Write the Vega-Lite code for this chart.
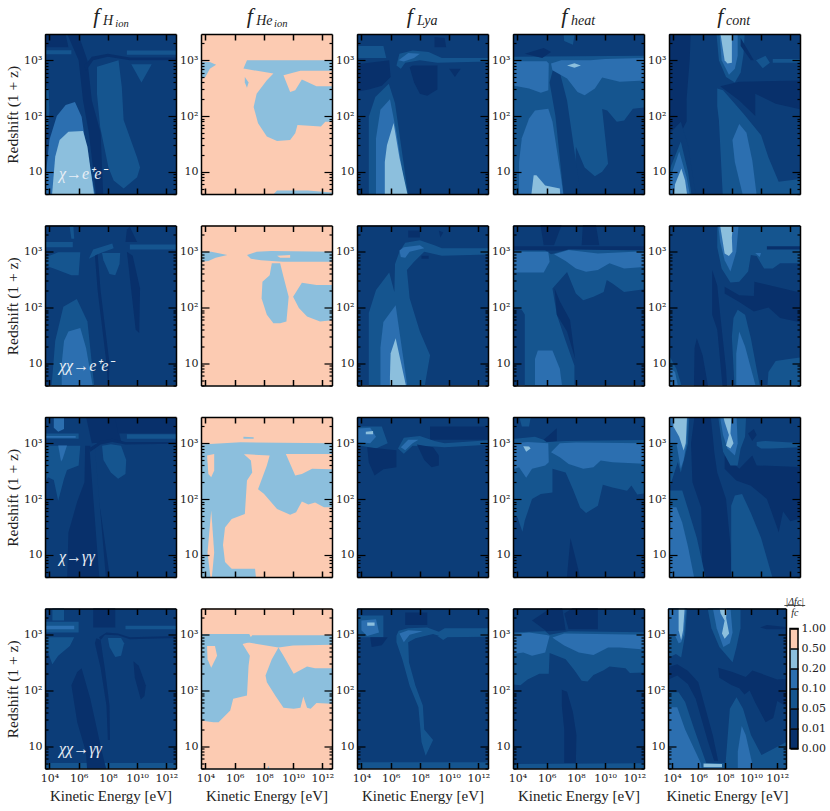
{"$schema":"https://vega.github.io/schema/vega-lite/v6.json","background":"white","padding":{"left":5,"top":4,"right":2,"bottom":2},"spacing":14.5,
"config":{"view":{"stroke":null},"text":{"font":"Liberation Serif"},"axis":{"labelFont":"DejaVu Serif","titleFont":"Liberation Serif","labelColor":"#222","titleColor":"#222"}},
"datasets":{"bar":[{"lo":0,"hi":1,"l":0},{"lo":1,"hi":2,"l":1},{"lo":2,"hi":3,"l":2},{"lo":3,"hi":4,"l":3},{"lo":4,"hi":5,"l":4},{"lo":5,"hi":6,"l":5}],
"cap":[{"x":0.6,"y":7.35,"t":"|Δfc|"},{"x":0.6,"y":6.8,"t":"fc"}],"capline":[{"x":-0.7,"x2":1.9,"y":7.15}],"frame":[{"lo":0,"hi":6}],
"polys":[
{"g":101,"p":1,"l":1},{"g":102,"p":1,"l":0},{"g":103,"p":1,"l":0},{"g":104,"p":1,"l":2},{"g":105,"p":1,"l":2},{"g":106,"p":1,"l":2},{"g":107,"p":1,"l":2},{"g":108,"p":1,"l":0},{"g":109,"p":1,"l":2},{"g":110,"p":1,"l":3},{"g":111,"p":1,"l":4},{"g":199,"p":1,"l":0},
{"g":201,"p":2,"l":5},{"g":202,"p":2,"l":4},{"g":203,"p":2,"l":4},{"g":204,"p":2,"l":4},{"g":205,"p":2,"l":4},{"g":299,"p":2,"l":0},
{"g":301,"p":3,"l":1},{"g":302,"p":3,"l":2},{"g":303,"p":3,"l":0},{"g":304,"p":3,"l":2},{"g":305,"p":3,"l":3},{"g":306,"p":3,"l":4},{"g":307,"p":3,"l":2},{"g":308,"p":3,"l":3},{"g":309,"p":3,"l":0},{"g":310,"p":3,"l":0},{"g":311,"p":3,"l":0},{"g":399,"p":3,"l":0},
{"g":401,"p":4,"l":1},{"g":402,"p":4,"l":2},{"g":403,"p":4,"l":1},{"g":404,"p":4,"l":3},{"g":405,"p":4,"l":3},{"g":406,"p":4,"l":4},{"g":407,"p":4,"l":3},{"g":408,"p":4,"l":4},{"g":409,"p":4,"l":0},{"g":410,"p":4,"l":2},{"g":499,"p":4,"l":0},
{"g":501,"p":5,"l":1},{"g":502,"p":5,"l":0},{"g":503,"p":5,"l":1},{"g":504,"p":5,"l":2},{"g":505,"p":5,"l":3},{"g":506,"p":5,"l":4},{"g":507,"p":5,"l":0},{"g":508,"p":5,"l":2},{"g":509,"p":5,"l":3},{"g":510,"p":5,"l":2},{"g":511,"p":5,"l":3},{"g":512,"p":5,"l":4},{"g":513,"p":5,"l":2},{"g":514,"p":5,"l":0},{"g":515,"p":5,"l":2},{"g":599,"p":5,"l":0},
{"g":601,"p":6,"l":1},{"g":602,"p":6,"l":2},{"g":603,"p":6,"l":2},{"g":604,"p":6,"l":2},{"g":605,"p":6,"l":2},{"g":606,"p":6,"l":2},{"g":607,"p":6,"l":2},{"g":608,"p":6,"l":0},{"g":609,"p":6,"l":0},{"g":610,"p":6,"l":0},{"g":611,"p":6,"l":2},{"g":612,"p":6,"l":3},{"g":699,"p":6,"l":0},
{"g":701,"p":7,"l":5},{"g":702,"p":7,"l":4},{"g":703,"p":7,"l":4},{"g":704,"p":7,"l":5},{"g":705,"p":7,"l":4},{"g":706,"p":7,"l":4},
{"g":801,"p":8,"l":1},{"g":802,"p":8,"l":2},{"g":803,"p":8,"l":3},{"g":804,"p":8,"l":4},{"g":805,"p":8,"l":3},{"g":806,"p":8,"l":0},{"g":807,"p":8,"l":0},{"g":808,"p":8,"l":0},
{"g":901,"p":9,"l":1},{"g":902,"p":9,"l":0},{"g":903,"p":9,"l":0},{"g":904,"p":9,"l":0},{"g":905,"p":9,"l":2},{"g":906,"p":9,"l":0},{"g":907,"p":9,"l":3},{"g":908,"p":9,"l":3},{"g":909,"p":9,"l":3},
{"g":1001,"p":10,"l":1},{"g":1002,"p":10,"l":2},{"g":1003,"p":10,"l":3},{"g":1004,"p":10,"l":4},{"g":1005,"p":10,"l":0},{"g":1006,"p":10,"l":0},{"g":1007,"p":10,"l":0},{"g":1008,"p":10,"l":2},{"g":1009,"p":10,"l":3},{"g":1010,"p":10,"l":2},{"g":1011,"p":10,"l":2},{"g":1012,"p":10,"l":3},{"g":1013,"p":10,"l":3},{"g":1014,"p":10,"l":0},
{"g":1101,"p":11,"l":1},{"g":1102,"p":11,"l":0},{"g":1103,"p":11,"l":1},{"g":1104,"p":11,"l":0},{"g":1105,"p":11,"l":0},{"g":1106,"p":11,"l":2},{"g":1107,"p":11,"l":2},{"g":1108,"p":11,"l":3},{"g":1109,"p":11,"l":3},{"g":1110,"p":11,"l":2},{"g":1111,"p":11,"l":3},{"g":1112,"p":11,"l":2},{"g":1113,"p":11,"l":0},{"g":1199,"p":11,"l":0},
{"g":1201,"p":12,"l":5},{"g":1202,"p":12,"l":4},{"g":1203,"p":12,"l":5},{"g":1204,"p":12,"l":5},{"g":1205,"p":12,"l":4},
{"g":1301,"p":13,"l":1},{"g":1302,"p":13,"l":0},{"g":1303,"p":13,"l":2},{"g":1304,"p":13,"l":3},{"g":1305,"p":13,"l":4},{"g":1306,"p":13,"l":0},{"g":1307,"p":13,"l":2},{"g":1308,"p":13,"l":3},{"g":1309,"p":13,"l":0},
{"g":1401,"p":14,"l":1},{"g":1402,"p":14,"l":2},{"g":1403,"p":14,"l":3},{"g":1404,"p":14,"l":3},{"g":1405,"p":14,"l":4},{"g":1406,"p":14,"l":0},{"g":1407,"p":14,"l":0},{"g":1408,"p":14,"l":2},
{"g":1501,"p":15,"l":1},{"g":1502,"p":15,"l":0},{"g":1503,"p":15,"l":0},{"g":1504,"p":15,"l":2},{"g":1505,"p":15,"l":2},{"g":1506,"p":15,"l":3},{"g":1507,"p":15,"l":2},{"g":1508,"p":15,"l":3},{"g":1509,"p":15,"l":4},{"g":1510,"p":15,"l":2},{"g":1511,"p":15,"l":3},{"g":1512,"p":15,"l":4},{"g":1513,"p":15,"l":2},{"g":1514,"p":15,"l":0},
{"g":1601,"p":16,"l":1},{"g":1602,"p":16,"l":2},{"g":1603,"p":16,"l":0},{"g":1604,"p":16,"l":0},{"g":1605,"p":16,"l":0},{"g":1606,"p":16,"l":2},{"g":1607,"p":16,"l":2},{"g":1608,"p":16,"l":2},{"g":1609,"p":16,"l":3},{"g":1610,"p":16,"l":2},{"g":1611,"p":16,"l":2},{"g":1612,"p":16,"l":0},{"g":1613,"p":16,"l":0},{"g":1699,"p":16,"l":0},
{"g":1701,"p":17,"l":5},{"g":1702,"p":17,"l":4},{"g":1703,"p":17,"l":5},{"g":1704,"p":17,"l":4},{"g":1705,"p":17,"l":4},{"g":1706,"p":17,"l":4},
{"g":1801,"p":18,"l":1},{"g":1802,"p":18,"l":2},{"g":1803,"p":18,"l":2},{"g":1804,"p":18,"l":3},{"g":1805,"p":18,"l":2},{"g":1806,"p":18,"l":3},{"g":1807,"p":18,"l":4},{"g":1808,"p":18,"l":0},{"g":1809,"p":18,"l":2},{"g":1810,"p":18,"l":0},
{"g":1901,"p":19,"l":1},{"g":1902,"p":19,"l":2},{"g":1903,"p":19,"l":2},{"g":1904,"p":19,"l":3},{"g":1905,"p":19,"l":3},{"g":1906,"p":19,"l":0},{"g":1907,"p":19,"l":0},{"g":1908,"p":19,"l":0},
{"g":2001,"p":20,"l":1},{"g":2002,"p":20,"l":2},{"g":2003,"p":20,"l":0},{"g":2004,"p":20,"l":2},{"g":2005,"p":20,"l":3},{"g":2006,"p":20,"l":0},{"g":2007,"p":20,"l":2},{"g":2008,"p":20,"l":3},{"g":2009,"p":20,"l":2},{"g":2010,"p":20,"l":3},{"g":2011,"p":20,"l":4},{"g":2012,"p":20,"l":2},{"g":2013,"p":20,"l":3},{"g":2014,"p":20,"l":4},{"g":2015,"p":20,"l":0},{"g":2016,"p":20,"l":4}
],
"pts":[
{"g":101,"x":1e3,"y":1},{"g":101,"x":1e13,"y":1},{"g":101,"x":1e13,"y":1e4},{"g":101,"x":1e3,"y":1e4},
{"g":102,"x":1e3,"y":4e3},{"g":102,"x":1e5,"y":4e3},{"g":102,"x":2e5,"y":1700},{"g":102,"x":1e3,"y":1700},
{"g":103,"x":1e5,"y":4e3},{"g":103,"x":6.3e5,"y":4e3},{"g":103,"x":4e6,"y":1000},{"g":103,"x":8e6,"y":190},{"g":103,"x":3.2e7,"y":50},{"g":103,"x":5e7,"y":3},{"g":103,"x":1.8e7,"y":3},{"g":103,"x":5e6,"y":50},{"g":103,"x":2e6,"y":190},{"g":103,"x":1e6,"y":1000},
{"g":104,"x":1e3,"y":500},{"g":104,"x":9e3,"y":300},{"g":104,"x":1e4,"y":120},{"g":104,"x":8e3,"y":60},{"g":104,"x":1e3,"y":40},
{"g":105,"x":1.8e7,"y":760},{"g":105,"x":5.4e8,"y":1000},{"g":105,"x":9e8,"y":330},{"g":105,"x":1.2e9,"y":85},{"g":105,"x":1e10,"y":18},{"g":105,"x":1.6e10,"y":12},{"g":105,"x":1e10,"y":8},{"g":105,"x":1.2e9,"y":5},{"g":105,"x":2.5e8,"y":7},{"g":105,"x":1.1e8,"y":12},{"g":105,"x":3e7,"y":63},{"g":105,"x":1.8e7,"y":250},
{"g":106,"x":1e3,"y":1510},{"g":106,"x":3.2e5,"y":1510},{"g":106,"x":3.2e5,"y":1280},{"g":106,"x":1e3,"y":1280},
{"g":107,"x":2e9,"y":1500},{"g":107,"x":1e13,"y":1500},{"g":107,"x":1e13,"y":1250},{"g":107,"x":2e9,"y":1250},
{"g":108,"x":2.5e6,"y":800},{"g":108,"x":8e6,"y":1150},{"g":108,"x":1e8,"y":1300},{"g":108,"x":3.2e9,"y":1120},{"g":108,"x":1e13,"y":1120},{"g":108,"x":1e13,"y":1000},{"g":108,"x":3.2e9,"y":1000},{"g":108,"x":1e8,"y":1150},{"g":108,"x":1e7,"y":1000},{"g":108,"x":3.2e6,"y":650},
{"g":109,"x":4e9,"y":850},{"g":109,"x":1e11,"y":850},{"g":109,"x":2e10,"y":400},
{"g":110,"x":1e3,"y":3},{"g":110,"x":1e3,"y":8},{"g":110,"x":6e3,"y":10},{"g":110,"x":1e4,"y":37},{"g":110,"x":3.2e4,"y":100},{"g":110,"x":1.3e5,"y":158},{"g":110,"x":5.6e5,"y":178},{"g":110,"x":1.6e6,"y":97},{"g":110,"x":3.2e6,"y":28},{"g":110,"x":1.6e7,"y":3},
{"g":111,"x":1.4e4,"y":3},{"g":111,"x":2.5e4,"y":18.6},{"g":111,"x":5e4,"y":37},{"g":111,"x":2e5,"y":52},{"g":111,"x":2e6,"y":54},{"g":111,"x":4e6,"y":28},{"g":111,"x":1.3e7,"y":3},
{"g":199,"x":1e7,"y":6300,"t":"f","k":"big"},{"g":199,"x":4.7e7,"y":5000,"t":"H","k":"sub"},{"g":199,"x":3.2e8,"y":4400,"t":"ion","k":"subsub"},{"g":199,"x":4.6e4,"y":9,"t":"χ→e⁺e⁻","k":"lab"},{"g":199,"x":32,"y":105,"t":"Redshift (1 + z)","k":"ylab"},

{"g":201,"x":1e3,"y":1},{"g":201,"x":1e13,"y":1},{"g":201,"x":1e13,"y":1e4},{"g":201,"x":1e3,"y":1e4},
{"g":202,"x":1e3,"y":960},{"g":202,"x":2e4,"y":930},{"g":202,"x":5.4e4,"y":830},{"g":202,"x":2e4,"y":700},{"g":202,"x":1e4,"y":500},{"g":202,"x":1e3,"y":350},
{"g":203,"x":7e6,"y":1000},{"g":203,"x":1e13,"y":1000},{"g":203,"x":1e13,"y":645},{"g":203,"x":3.2e10,"y":645},{"g":203,"x":2.2e9,"y":540},{"g":203,"x":6.3e9,"y":270},{"g":203,"x":1.4e10,"y":290},{"g":203,"x":4e10,"y":450},{"g":203,"x":4e11,"y":340},{"g":203,"x":1e13,"y":340},{"g":203,"x":1e13,"y":79},{"g":203,"x":1.6e12,"y":79},{"g":203,"x":8e11,"y":65},{"g":203,"x":2e10,"y":69},{"g":203,"x":1.4e10,"y":49},{"g":203,"x":6.3e9,"y":37},{"g":203,"x":8e8,"y":35.5},{"g":203,"x":1.6e8,"y":43},{"g":203,"x":4e7,"y":74},{"g":203,"x":2e7,"y":145},{"g":203,"x":3.2e7,"y":250},{"g":203,"x":1.6e8,"y":437},{"g":203,"x":4.5e8,"y":575},{"g":203,"x":4e6,"y":708},
{"g":204,"x":5e6,"y":500},{"g":204,"x":9e6,"y":400},{"g":204,"x":7e6,"y":320},{"g":204,"x":5e6,"y":400},
{"g":205,"x":1.6e8,"y":3},{"g":205,"x":8e8,"y":4.6},{"g":205,"x":1e11,"y":4.6},{"g":205,"x":1e13,"y":4.2},{"g":205,"x":1e13,"y":3},
{"g":299,"x":6.8e6,"y":6300,"t":"f","k":"big"},{"g":299,"x":3e7,"y":5000,"t":"He","k":"sub"},{"g":299,"x":5e8,"y":4400,"t":"ion","k":"subsub"},

{"g":301,"x":1e3,"y":1},{"g":301,"x":1e13,"y":1},{"g":301,"x":1e13,"y":1e4},{"g":301,"x":1e3,"y":1e4},
{"g":302,"x":3.2e4,"y":3},{"g":302,"x":3.2e4,"y":97},{"g":302,"x":9e4,"y":220},{"g":302,"x":7.5e5,"y":380},{"g":302,"x":2e6,"y":170},{"g":302,"x":1.8e7,"y":3},
{"g":303,"x":1e3,"y":800},{"g":303,"x":8e5,"y":1000},{"g":303,"x":1e6,"y":500},{"g":303,"x":2.5e5,"y":350},{"g":303,"x":3.2e4,"y":300},{"g":303,"x":1e3,"y":250},
{"g":304,"x":1e3,"y":1800},{"g":304,"x":3.2e5,"y":1800},{"g":304,"x":5e5,"y":1100},{"g":304,"x":1e3,"y":1100},
{"g":305,"x":1e5,"y":3},{"g":305,"x":1e5,"y":40},{"g":305,"x":2e5,"y":130},{"g":305,"x":9e5,"y":200},{"g":305,"x":2.5e6,"y":50},{"g":305,"x":1.3e7,"y":3},
{"g":306,"x":4e5,"y":3},{"g":306,"x":4e5,"y":15},{"g":306,"x":5.6e5,"y":30},{"g":306,"x":1.6e6,"y":75},{"g":306,"x":4e6,"y":18},{"g":306,"x":1.8e7,"y":3},
{"g":307,"x":2.5e6,"y":800},{"g":307,"x":4e6,"y":1300},{"g":307,"x":3.2e7,"y":1500},{"g":307,"x":4e8,"y":1400},{"g":307,"x":3.2e9,"y":1100},{"g":307,"x":1e13,"y":1100},{"g":307,"x":1e13,"y":950},{"g":307,"x":1.6e9,"y":900},{"g":307,"x":1e8,"y":1000},{"g":307,"x":1e7,"y":900},{"g":307,"x":5e6,"y":700},
{"g":308,"x":3.5e6,"y":1000},{"g":308,"x":1.6e7,"y":1350},{"g":308,"x":1e8,"y":1300},{"g":308,"x":4e7,"y":1100},{"g":308,"x":8e6,"y":950},
{"g":309,"x":3.2e7,"y":800},{"g":309,"x":1.6e9,"y":800},{"g":309,"x":1.6e9,"y":300},{"g":309,"x":3.2e8,"y":230},{"g":309,"x":1e8,"y":250},{"g":309,"x":4e7,"y":400},{"g":309,"x":2e7,"y":750},
{"g":310,"x":1e10,"y":700},{"g":310,"x":6.3e10,"y":700},{"g":310,"x":2.5e10,"y":500},
{"g":311,"x":1e9,"y":2600},{"g":311,"x":5e9,"y":2500},{"g":311,"x":6.3e9,"y":1700},{"g":311,"x":1e9,"y":1700},
{"g":399,"x":1.26e7,"y":6300,"t":"f","k":"big"},{"g":399,"x":6.3e7,"y":5000,"t":"Lya","k":"sub"},

{"g":401,"x":1e3,"y":1},{"g":401,"x":1e13,"y":1},{"g":401,"x":1e13,"y":1e4},{"g":401,"x":1e3,"y":1e4},
{"g":402,"x":1e3,"y":1150},{"g":402,"x":1e13,"y":1200},{"g":402,"x":1e13,"y":146},{"g":402,"x":8e11,"y":135},{"g":402,"x":2e11,"y":83},{"g":402,"x":6.3e10,"y":79},{"g":402,"x":1.4e10,"y":125},{"g":402,"x":6.3e9,"y":134},{"g":402,"x":1.6e10,"y":14},{"g":402,"x":6.3e9,"y":10},{"g":402,"x":2e9,"y":8.3},{"g":402,"x":4e8,"y":12},{"g":402,"x":1e8,"y":28},{"g":402,"x":8.4e7,"y":3},{"g":402,"x":1e3,"y":3},
{"g":403,"x":3.2e6,"y":800},{"g":403,"x":8e6,"y":600},{"g":403,"x":2.5e7,"y":190},{"g":403,"x":2.5e8,"y":3},{"g":403,"x":1.6e7,"y":3},{"g":403,"x":4e6,"y":100},{"g":403,"x":1.6e6,"y":400},
{"g":404,"x":1e3,"y":960},{"g":404,"x":1e6,"y":960},{"g":404,"x":1.4e6,"y":870},{"g":404,"x":1.3e6,"y":290},{"g":404,"x":4e5,"y":260},{"g":404,"x":6.3e4,"y":310},{"g":404,"x":1e3,"y":380},
{"g":405,"x":2e6,"y":870},{"g":405,"x":1e7,"y":1000},{"g":405,"x":1e9,"y":1000},{"g":405,"x":1e10,"y":1050},{"g":405,"x":1e13,"y":1100},{"g":405,"x":1e13,"y":437},{"g":405,"x":1e11,"y":410},{"g":405,"x":6.3e9,"y":490},{"g":405,"x":2e9,"y":310},{"g":405,"x":4e8,"y":236},{"g":405,"x":1.3e8,"y":270},{"g":405,"x":2.5e7,"y":470},{"g":405,"x":2.5e6,"y":660},
{"g":406,"x":2.5e7,"y":800},{"g":406,"x":8e7,"y":880},{"g":406,"x":2.2e8,"y":800},{"g":406,"x":8e7,"y":730},
{"g":407,"x":1.3e4,"y":3},{"g":407,"x":1.3e4,"y":15},{"g":407,"x":2e4,"y":40},{"g":407,"x":6.3e4,"y":90},{"g":407,"x":1.6e5,"y":125},{"g":407,"x":1.3e6,"y":135},{"g":407,"x":2.5e6,"y":80},{"g":407,"x":9e6,"y":9},{"g":407,"x":1.6e7,"y":3},
{"g":408,"x":8e4,"y":3},{"g":408,"x":1.3e5,"y":8.7},{"g":408,"x":2e5,"y":8.7},{"g":408,"x":8e5,"y":5.7},{"g":408,"x":8e6,"y":5},{"g":408,"x":9e6,"y":3},
{"g":409,"x":3.2e4,"y":1300},{"g":409,"x":6.3e5,"y":1650},{"g":409,"x":2e6,"y":1400},{"g":409,"x":5e5,"y":1100},
{"g":410,"x":1.3e7,"y":4e3},{"g":410,"x":1.6e7,"y":2200},{"g":410,"x":6.3e7,"y":1900},{"g":410,"x":1e8,"y":4e3},
{"g":499,"x":1e7,"y":6300,"t":"f","k":"big"},{"g":499,"x":4.7e7,"y":5000,"t":"heat","k":"sub"},

{"g":501,"x":1e3,"y":1},{"g":501,"x":1e13,"y":1},{"g":501,"x":1e13,"y":1e4},{"g":501,"x":1e3,"y":1e4},
{"g":502,"x":1e3,"y":4e3},{"g":502,"x":1.6e5,"y":4e3},{"g":502,"x":1.3e5,"y":1000},{"g":502,"x":8e4,"y":200},{"g":502,"x":8e4,"y":80},{"g":502,"x":3.2e4,"y":50},{"g":502,"x":1e3,"y":30},
{"g":503,"x":1e3,"y":3},{"g":503,"x":1e3,"y":30},{"g":503,"x":3.2e4,"y":79},{"g":503,"x":1e5,"y":30},{"g":503,"x":4e5,"y":3},
{"g":504,"x":1e3,"y":3},{"g":504,"x":6.3e3,"y":12},{"g":504,"x":3.2e4,"y":35},{"g":504,"x":1e5,"y":10},{"g":504,"x":2e5,"y":3},
{"g":505,"x":1e3,"y":3},{"g":505,"x":6.3e3,"y":8},{"g":505,"x":2.5e4,"y":23},{"g":505,"x":8e4,"y":8},{"g":505,"x":1.6e5,"y":3},
{"g":506,"x":1e4,"y":3},{"g":506,"x":1.3e4,"y":6},{"g":506,"x":3.5e4,"y":11.5},{"g":506,"x":6.3e4,"y":7},{"g":506,"x":1e5,"y":3},
{"g":507,"x":1.6e7,"y":340},{"g":507,"x":3.2e8,"y":410},{"g":507,"x":1e13,"y":437},{"g":507,"x":1e13,"y":126},{"g":507,"x":1e11,"y":166},{"g":507,"x":4e9,"y":250},{"g":507,"x":4e9,"y":100},{"g":507,"x":3.2e8,"y":190},
{"g":508,"x":1e7,"y":310},{"g":508,"x":2.5e7,"y":290},{"g":508,"x":6.3e8,"y":110},{"g":508,"x":1e10,"y":45},{"g":508,"x":3.2e10,"y":18},{"g":508,"x":1.6e11,"y":6.6},{"g":508,"x":1e13,"y":7.6},{"g":508,"x":1e13,"y":3},{"g":508,"x":2.5e7,"y":3},{"g":508,"x":1.3e7,"y":85},{"g":508,"x":1e7,"y":150},
{"g":509,"x":1.1e8,"y":37},{"g":509,"x":3.2e8,"y":72},{"g":509,"x":1e9,"y":50},{"g":509,"x":2.5e9,"y":16},{"g":509,"x":5.6e9,"y":3},{"g":509,"x":7e8,"y":3},{"g":509,"x":1.6e8,"y":15},
{"g":510,"x":8e6,"y":4e3},{"g":510,"x":8e8,"y":4e3},{"g":510,"x":6.3e8,"y":1300},{"g":510,"x":4e8,"y":600},{"g":510,"x":1.6e8,"y":400},{"g":510,"x":4e7,"y":500},{"g":510,"x":1.3e7,"y":1000},
{"g":511,"x":1.3e7,"y":4e3},{"g":511,"x":2.5e8,"y":4e3},{"g":511,"x":2.5e8,"y":1200},{"g":511,"x":1.6e8,"y":700},{"g":511,"x":6.3e7,"y":550},{"g":511,"x":2e7,"y":1000},
{"g":512,"x":1.4e7,"y":4e3},{"g":512,"x":1e8,"y":4e3},{"g":512,"x":1e8,"y":1600},{"g":512,"x":1e8,"y":900},{"g":512,"x":5e7,"y":870},{"g":512,"x":3.2e7,"y":1000},{"g":512,"x":2.5e7,"y":1500},
{"g":513,"x":4.5e9,"y":1000},{"g":513,"x":2e10,"y":1200},{"g":513,"x":4e10,"y":900},{"g":513,"x":1.3e10,"y":720},
{"g":514,"x":4e8,"y":2500},{"g":514,"x":3.2e9,"y":1000},{"g":514,"x":2e9,"y":1000},{"g":514,"x":4e8,"y":1800},
{"g":515,"x":6.3e10,"y":1050},{"g":515,"x":1e13,"y":1050},{"g":515,"x":1e13,"y":900},{"g":515,"x":6.3e10,"y":900},
{"g":599,"x":1e7,"y":6300,"t":"f","k":"big"},{"g":599,"x":4e7,"y":5000,"t":"cont","k":"sub"},

{"g":601,"x":1e3,"y":1},{"g":601,"x":1e13,"y":1},{"g":601,"x":1e13,"y":1e4},{"g":601,"x":1e3,"y":1e4},
{"g":602,"x":1e3,"y":660},{"g":602,"x":4e4,"y":980},{"g":602,"x":1.3e6,"y":980},{"g":602,"x":1e6,"y":380},{"g":602,"x":3.2e5,"y":380},{"g":602,"x":2e4,"y":500},
{"g":603,"x":4e7,"y":950},{"g":603,"x":7e8,"y":950},{"g":603,"x":6.3e8,"y":600},{"g":603,"x":3.2e8,"y":380},{"g":603,"x":1.3e8,"y":400},{"g":603,"x":5e7,"y":700},
{"g":604,"x":1e3,"y":1500},{"g":604,"x":4e5,"y":1500},{"g":604,"x":4e5,"y":1200},{"g":604,"x":1e3,"y":1200},
{"g":605,"x":5e6,"y":750},{"g":605,"x":1e7,"y":1100},{"g":605,"x":2e8,"y":1400},{"g":605,"x":2.5e8,"y":1150},{"g":605,"x":3.2e7,"y":950},
{"g":606,"x":3.2e9,"y":1350},{"g":606,"x":1e13,"y":1350},{"g":606,"x":1e13,"y":1100},{"g":606,"x":3.2e9,"y":1100},
{"g":607,"x":2e5,"y":4e3},{"g":607,"x":4e5,"y":4e3},{"g":607,"x":5e5,"y":1700},{"g":607,"x":3.2e5,"y":1700},
{"g":608,"x":2e9,"y":1000},{"g":608,"x":5e9,"y":850},{"g":608,"x":1.6e10,"y":220},{"g":608,"x":1.4e10,"y":35},{"g":608,"x":8e9,"y":40},{"g":608,"x":4e9,"y":200},
{"g":609,"x":1.3e7,"y":850},{"g":609,"x":2e7,"y":900},{"g":609,"x":3.2e7,"y":200},{"g":609,"x":1.3e8,"y":10},{"g":609,"x":1.1e8,"y":3},{"g":609,"x":8e7,"y":10},{"g":609,"x":2e7,"y":200},
{"g":610,"x":2e9,"y":2500},{"g":610,"x":3.2e9,"y":2800},{"g":610,"x":1e10,"y":1500},{"g":610,"x":1.6e9,"y":1500},
{"g":611,"x":1.3e4,"y":3},{"g":611,"x":2.5e4,"y":25},{"g":611,"x":9e4,"y":103},{"g":611,"x":7.5e5,"y":142},{"g":611,"x":4e6,"y":56},{"g":611,"x":1.3e7,"y":3},
{"g":612,"x":7e4,"y":3},{"g":612,"x":7e4,"y":10},{"g":612,"x":1e5,"y":25},{"g":612,"x":2e5,"y":37},{"g":612,"x":1.3e6,"y":43},{"g":612,"x":3.2e6,"y":19},{"g":612,"x":1.1e7,"y":3},
{"g":699,"x":4.6e4,"y":9,"t":"χχ→e⁺e⁻","k":"lab"},{"g":699,"x":32,"y":105,"t":"Redshift (1 + z)","k":"ylab"},

{"g":701,"x":1e3,"y":1},{"g":701,"x":1e13,"y":1},{"g":701,"x":1e13,"y":1e4},{"g":701,"x":1e3,"y":1e4},
{"g":702,"x":1e3,"y":1020},{"g":702,"x":2.5e4,"y":1000},{"g":702,"x":3.2e5,"y":870},{"g":702,"x":5e4,"y":780},{"g":702,"x":1.6e4,"y":680},{"g":702,"x":1e3,"y":640},
{"g":703,"x":7e6,"y":870},{"g":703,"x":3.2e7,"y":1000},{"g":703,"x":3.2e8,"y":1030},{"g":703,"x":1e13,"y":1000},{"g":703,"x":1e13,"y":660},{"g":703,"x":2e9,"y":660},{"g":703,"x":6.3e7,"y":700},{"g":703,"x":1.3e7,"y":750},
{"g":704,"x":8e8,"y":850},{"g":704,"x":6.3e9,"y":870},{"g":704,"x":6.3e9,"y":780},{"g":704,"x":1.3e9,"y":780},
{"g":705,"x":3.5e8,"y":620},{"g":705,"x":1.3e9,"y":620},{"g":705,"x":2.2e9,"y":357},{"g":705,"x":5e9,"y":156},{"g":705,"x":3.5e9,"y":56},{"g":705,"x":1.3e9,"y":52},{"g":705,"x":4.5e8,"y":52},{"g":705,"x":1.6e8,"y":74},{"g":705,"x":7e7,"y":145},{"g":705,"x":8e7,"y":290},{"g":705,"x":2.5e8,"y":380},
{"g":706,"x":1e10,"y":156},{"g":706,"x":4e10,"y":278},{"g":706,"x":4e11,"y":252},{"g":706,"x":1e13,"y":252},{"g":706,"x":1e13,"y":60},{"g":706,"x":7e11,"y":56},{"g":706,"x":9e10,"y":69},{"g":706,"x":2.5e10,"y":98},

{"g":801,"x":1e3,"y":1},{"g":801,"x":1e13,"y":1},{"g":801,"x":1e13,"y":1e4},{"g":801,"x":1e3,"y":1e4},
{"g":802,"x":3.2e4,"y":3},{"g":802,"x":3.2e4,"y":80},{"g":802,"x":1e5,"y":205},{"g":802,"x":8e5,"y":426},{"g":802,"x":1.8e6,"y":190},{"g":802,"x":2e6,"y":600},{"g":802,"x":4e6,"y":1000},{"g":802,"x":1e7,"y":1450},{"g":802,"x":1e8,"y":1600},{"g":802,"x":1e9,"y":1300},{"g":802,"x":3.2e9,"y":1150},{"g":802,"x":1e13,"y":1150},{"g":802,"x":1e13,"y":900},{"g":802,"x":3.2e9,"y":850},{"g":802,"x":2e8,"y":1000},{"g":802,"x":4e7,"y":660},{"g":802,"x":1.3e7,"y":470},{"g":802,"x":2e7,"y":146},{"g":802,"x":1e8,"y":37},{"g":802,"x":5e8,"y":14},{"g":802,"x":1.8e8,"y":3},
{"g":803,"x":2e5,"y":3},{"g":803,"x":2e5,"y":19},{"g":803,"x":3.2e5,"y":55},{"g":803,"x":2.2e6,"y":110},{"g":803,"x":1.6e7,"y":3},
{"g":804,"x":9e5,"y":3},{"g":804,"x":9e5,"y":6},{"g":804,"x":1e6,"y":15},{"g":804,"x":2.2e6,"y":28},{"g":804,"x":8e6,"y":6},{"g":804,"x":1.4e7,"y":3},
{"g":805,"x":4e6,"y":1050},{"g":805,"x":8e6,"y":1200},{"g":805,"x":1e8,"y":1300},{"g":805,"x":2e8,"y":1150},{"g":805,"x":2e7,"y":1000},{"g":805,"x":1e7,"y":780},{"g":805,"x":5e6,"y":800},
{"g":806,"x":1.3e8,"y":850},{"g":806,"x":4e8,"y":850},{"g":806,"x":4e8,"y":750},{"g":806,"x":1.3e8,"y":750},
{"g":807,"x":1.6e7,"y":2400},{"g":807,"x":1e8,"y":2400},{"g":807,"x":1e8,"y":1800},{"g":807,"x":1.6e7,"y":1800},
{"g":808,"x":2e9,"y":2400},{"g":808,"x":4e9,"y":2200},{"g":808,"x":2.5e9,"y":1800},

{"g":901,"x":1e3,"y":1},{"g":901,"x":1e13,"y":1},{"g":901,"x":1e13,"y":1e4},{"g":901,"x":1e3,"y":1e4},
{"g":902,"x":1e3,"y":1250},{"g":902,"x":1e13,"y":1250},{"g":902,"x":1e13,"y":1050},{"g":902,"x":1.6e6,"y":1050},{"g":902,"x":1e3,"y":1080},
{"g":903,"x":3.2e5,"y":4e3},{"g":903,"x":1.6e7,"y":4e3},{"g":903,"x":3.2e6,"y":1300},{"g":903,"x":6.3e5,"y":1300},
{"g":904,"x":3.2e8,"y":4e3},{"g":904,"x":2e9,"y":4e3},{"g":904,"x":4e9,"y":1300},{"g":904,"x":2.5e8,"y":1300},
{"g":905,"x":1e3,"y":1050},{"g":905,"x":8e5,"y":1050},{"g":905,"x":2e6,"y":900},{"g":905,"x":3.2e7,"y":1100},{"g":905,"x":1e13,"y":1050},{"g":905,"x":1e13,"y":218},{"g":905,"x":2e11,"y":190},{"g":905,"x":3.2e10,"y":270},{"g":905,"x":1.3e10,"y":310},{"g":905,"x":8e9,"y":190},{"g":905,"x":1.6e9,"y":156},{"g":905,"x":3.2e8,"y":135},{"g":905,"x":1e8,"y":178},{"g":905,"x":2.5e7,"y":435},{"g":905,"x":2.5e6,"y":218},{"g":905,"x":5e6,"y":74},{"g":905,"x":2e7,"y":25},{"g":905,"x":8e7,"y":9},{"g":905,"x":8e7,"y":3},{"g":905,"x":3.2e4,"y":3},{"g":905,"x":3.2e4,"y":75},{"g":905,"x":2e4,"y":91},{"g":905,"x":1e3,"y":110},
{"g":906,"x":3.5e6,"y":218},{"g":906,"x":8e6,"y":130},{"g":906,"x":4e7,"y":60},{"g":906,"x":9e7,"y":12},{"g":906,"x":2.5e7,"y":37},{"g":906,"x":5e6,"y":74},
{"g":907,"x":1e3,"y":1000},{"g":907,"x":1.3e6,"y":1000},{"g":907,"x":1.6e6,"y":660},{"g":907,"x":6.3e5,"y":426},{"g":907,"x":1e3,"y":426},
{"g":908,"x":3.2e6,"y":900},{"g":908,"x":3.2e7,"y":1070},{"g":908,"x":3.2e9,"y":930},{"g":908,"x":1e13,"y":1030},{"g":908,"x":1e13,"y":540},{"g":908,"x":2e11,"y":500},{"g":908,"x":2e10,"y":620},{"g":908,"x":3.2e9,"y":470},{"g":908,"x":5e8,"y":438},{"g":908,"x":1e8,"y":500},{"g":908,"x":2e7,"y":680},
{"g":909,"x":1.6e5,"y":3},{"g":909,"x":1.6e5,"y":12},{"g":909,"x":2.5e5,"y":17},{"g":909,"x":2.5e6,"y":17},{"g":909,"x":8e6,"y":8},{"g":909,"x":1.3e7,"y":3},

{"g":1001,"x":1e3,"y":1},{"g":1001,"x":1e13,"y":1},{"g":1001,"x":1e13,"y":1e4},{"g":1001,"x":1e3,"y":1e4},
{"g":1002,"x":1e7,"y":4e3},{"g":1002,"x":1e13,"y":4e3},{"g":1002,"x":1e13,"y":620},{"g":1002,"x":2e11,"y":620},{"g":1002,"x":6.3e10,"y":500},{"g":1002,"x":1.6e10,"y":500},{"g":1002,"x":5e9,"y":840},{"g":1002,"x":2e9,"y":870},{"g":1002,"x":1.3e9,"y":440},{"g":1002,"x":3.2e8,"y":290},{"g":1002,"x":8e7,"y":280},{"g":1002,"x":2e7,"y":500},{"g":1002,"x":1e7,"y":1200},
{"g":1003,"x":1e7,"y":4e3},{"g":1003,"x":3.2e8,"y":4e3},{"g":1003,"x":2e8,"y":1000},{"g":1003,"x":8e7,"y":440},{"g":1003,"x":3.2e7,"y":700},{"g":1003,"x":1.6e7,"y":1500},
{"g":1004,"x":1.3e7,"y":4e3},{"g":1004,"x":1.3e8,"y":4e3},{"g":1004,"x":1e8,"y":1800},{"g":1004,"x":1.1e8,"y":1000},{"g":1004,"x":6.3e7,"y":840},{"g":1004,"x":3.2e7,"y":930},{"g":1004,"x":2e7,"y":2000},
{"g":1005,"x":3.2e7,"y":235},{"g":1005,"x":3.2e8,"y":165},{"g":1005,"x":3.2e9,"y":160},{"g":1005,"x":3.5e9,"y":290},{"g":1005,"x":1e13,"y":178},{"g":1005,"x":1e13,"y":52},{"g":1005,"x":2e11,"y":65},{"g":1005,"x":3.2e10,"y":100},{"g":1005,"x":3.2e9,"y":85},{"g":1005,"x":3.2e8,"y":125},{"g":1005,"x":3.2e7,"y":178},
{"g":1006,"x":4.5e6,"y":470},{"g":1006,"x":1e7,"y":250},{"g":1006,"x":1.6e7,"y":74},{"g":1006,"x":4e7,"y":8},{"g":1006,"x":5e7,"y":3},{"g":1006,"x":2.5e7,"y":3},{"g":1006,"x":1e7,"y":40},{"g":1006,"x":4.5e6,"y":74},
{"g":1007,"x":2.5e5,"y":3},{"g":1007,"x":2.8e5,"y":19},{"g":1007,"x":4e5,"y":28},{"g":1007,"x":1e6,"y":14},{"g":1007,"x":2.8e6,"y":3},
{"g":1008,"x":1.6e8,"y":3},{"g":1008,"x":1e8,"y":30},{"g":1008,"x":1.3e8,"y":65},{"g":1008,"x":2.5e8,"y":91},{"g":1008,"x":8e8,"y":74},{"g":1008,"x":2e9,"y":28},{"g":1008,"x":1e10,"y":3},
{"g":1009,"x":2e8,"y":3},{"g":1009,"x":2e8,"y":15},{"g":1009,"x":3.2e8,"y":37},{"g":1009,"x":8e8,"y":20},{"g":1009,"x":5.6e9,"y":3},
{"g":1010,"x":2.5e10,"y":3},{"g":1010,"x":3.2e10,"y":7},{"g":1010,"x":1e11,"y":11},{"g":1010,"x":8e11,"y":12},{"g":1010,"x":1e13,"y":13},{"g":1010,"x":1e13,"y":3},
{"g":1011,"x":1e3,"y":30},{"g":1011,"x":1.6e4,"y":8},{"g":1011,"x":5e4,"y":3},{"g":1011,"x":1e3,"y":3},
{"g":1012,"x":1e3,"y":12},{"g":1012,"x":1.3e4,"y":7},{"g":1012,"x":2.5e4,"y":3},{"g":1012,"x":1e3,"y":3},
{"g":1013,"x":4e9,"y":950},{"g":1013,"x":1e10,"y":950},{"g":1013,"x":8e9,"y":800},
{"g":1014,"x":2.5e10,"y":1250},{"g":1014,"x":1e13,"y":1250},{"g":1014,"x":1e13,"y":1100},{"g":1014,"x":2.5e10,"y":1100},

{"g":1101,"x":1e3,"y":1},{"g":1101,"x":1e13,"y":1},{"g":1101,"x":1e13,"y":1e4},{"g":1101,"x":1e3,"y":1e4},
{"g":1102,"x":1.6e5,"y":3},{"g":1102,"x":2e5,"y":25},{"g":1102,"x":8e5,"y":90},{"g":1102,"x":2.5e6,"y":200},{"g":1102,"x":2.8e6,"y":900},{"g":1102,"x":6.3e6,"y":900},{"g":1102,"x":1e7,"y":300},{"g":1102,"x":3.2e7,"y":60},{"g":1102,"x":1.6e8,"y":3},
{"g":1103,"x":5.6e6,"y":800},{"g":1103,"x":1.3e7,"y":800},{"g":1103,"x":8e7,"y":3},{"g":1103,"x":2.8e7,"y":3},
{"g":1104,"x":2.5e6,"y":4e3},{"g":1104,"x":2.5e8,"y":4e3},{"g":1104,"x":8e8,"y":1100},{"g":1104,"x":8e6,"y":1000},
{"g":1105,"x":2.5e8,"y":4e3},{"g":1105,"x":1e13,"y":4e3},{"g":1105,"x":1e13,"y":1500},{"g":1105,"x":5e8,"y":1500},
{"g":1106,"x":4e7,"y":900},{"g":1106,"x":1.6e8,"y":960},{"g":1106,"x":8e8,"y":900},{"g":1106,"x":1.8e9,"y":500},{"g":1106,"x":1.6e9,"y":280},{"g":1106,"x":5e8,"y":230},{"g":1106,"x":1.6e8,"y":300},{"g":1106,"x":5e7,"y":500},
{"g":1107,"x":1e3,"y":900},{"g":1107,"x":1.3e6,"y":900},{"g":1107,"x":1e6,"y":400},{"g":1107,"x":1.6e5,"y":330},{"g":1107,"x":1e5,"y":230},{"g":1107,"x":4e4,"y":93},{"g":1107,"x":2e4,"y":220},{"g":1107,"x":8e3,"y":245},{"g":1107,"x":1e3,"y":93},
{"g":1108,"x":4e4,"y":910},{"g":1108,"x":1.6e5,"y":910},{"g":1108,"x":8e4,"y":520},{"g":1108,"x":6.3e4,"y":470},
{"g":1109,"x":2e4,"y":4e3},{"g":1109,"x":1e5,"y":4e3},{"g":1109,"x":1e5,"y":1800},{"g":1109,"x":4e4,"y":1600},{"g":1109,"x":2e4,"y":1900},
{"g":1110,"x":1e3,"y":1500},{"g":1110,"x":1e6,"y":1500},{"g":1110,"x":1e6,"y":1200},{"g":1110,"x":1e3,"y":1200},
{"g":1111,"x":1e3,"y":1350},{"g":1111,"x":6.3e5,"y":1350},{"g":1111,"x":6.3e5,"y":1250},{"g":1111,"x":1e3,"y":1250},
{"g":1112,"x":2e9,"y":1450},{"g":1112,"x":1e13,"y":1450},{"g":1112,"x":1e13,"y":1200},{"g":1112,"x":2e9,"y":1200},
{"g":1113,"x":5e6,"y":800},{"g":1113,"x":3.2e7,"y":1100},{"g":1113,"x":2e8,"y":1200},{"g":1113,"x":1.6e9,"y":1050},{"g":1113,"x":1e13,"y":1050},{"g":1113,"x":1e13,"y":980},{"g":1113,"x":1.6e9,"y":950},{"g":1113,"x":2e8,"y":1050},{"g":1113,"x":3.2e7,"y":950},{"g":1113,"x":6.3e6,"y":700},
{"g":1199,"x":4.6e4,"y":9,"t":"χ→γγ","k":"lab"},{"g":1199,"x":32,"y":105,"t":"Redshift (1 + z)","k":"ylab"},

{"g":1201,"x":1e3,"y":1},{"g":1201,"x":1e13,"y":1},{"g":1201,"x":1e13,"y":1e4},{"g":1201,"x":1e3,"y":1e4},
{"g":1202,"x":1e3,"y":930},{"g":1202,"x":1.6e5,"y":1000},{"g":1202,"x":2.5e6,"y":1040},{"g":1202,"x":1e13,"y":1000},{"g":1202,"x":1e13,"y":640},{"g":1202,"x":3.2e9,"y":640},{"g":1202,"x":1.4e10,"y":263},{"g":1202,"x":4e10,"y":280},{"g":1202,"x":2e11,"y":350},{"g":1202,"x":1e13,"y":340},{"g":1202,"x":1e13,"y":71},{"g":1202,"x":1.3e12,"y":71},{"g":1202,"x":3.2e11,"y":87},{"g":1202,"x":1.1e11,"y":80},{"g":1202,"x":4e10,"y":90},{"g":1202,"x":1.6e10,"y":58},{"g":1202,"x":6.3e9,"y":52},{"g":1202,"x":8e8,"y":66},{"g":1202,"x":1e8,"y":124},{"g":1202,"x":4e7,"y":150},{"g":1202,"x":1.6e8,"y":400},{"g":1202,"x":2.5e8,"y":600},{"g":1202,"x":4e6,"y":640},{"g":1202,"x":3.2e6,"y":680},{"g":1202,"x":1.3e7,"y":490},{"g":1202,"x":1.6e7,"y":300},{"g":1202,"x":7e6,"y":215},{"g":1202,"x":5e6,"y":54},{"g":1202,"x":6.3e5,"y":44},{"g":1202,"x":2.2e5,"y":31},{"g":1202,"x":1.6e5,"y":15},{"g":1202,"x":2.2e5,"y":7.4},{"g":1202,"x":6.3e5,"y":5.6},{"g":1202,"x":2.5e7,"y":5.6},{"g":1202,"x":3.2e7,"y":3},{"g":1202,"x":1e3,"y":3},
{"g":1203,"x":2.5e4,"y":62},{"g":1203,"x":4e4,"y":11},{"g":1203,"x":2.5e4,"y":3},{"g":1203,"x":1.4e4,"y":11},
{"g":1204,"x":1.3e4,"y":600},{"g":1204,"x":4e4,"y":640},{"g":1204,"x":4e4,"y":324},{"g":1204,"x":2.5e4,"y":245},{"g":1204,"x":1.6e4,"y":280},
{"g":1205,"x":4e6,"y":1300},{"g":1205,"x":2e7,"y":1280},{"g":1205,"x":2e7,"y":1200},{"g":1205,"x":4e6,"y":1200},

{"g":1301,"x":1e3,"y":1},{"g":1301,"x":1e13,"y":1},{"g":1301,"x":1e13,"y":1e4},{"g":1301,"x":1e3,"y":1e4},
{"g":1302,"x":5e8,"y":2000},{"g":1302,"x":1e13,"y":2000},{"g":1302,"x":1e13,"y":1150},{"g":1302,"x":5e8,"y":1150},
{"g":1303,"x":1e3,"y":2000},{"g":1303,"x":2.5e5,"y":2000},{"g":1303,"x":6.3e5,"y":1000},{"g":1303,"x":1e5,"y":800},{"g":1303,"x":1e3,"y":1000},
{"g":1304,"x":1e3,"y":1800},{"g":1304,"x":4e4,"y":1900},{"g":1304,"x":1e5,"y":1300},{"g":1304,"x":4e4,"y":1000},{"g":1304,"x":1e3,"y":1100},
{"g":1305,"x":2e4,"y":1600},{"g":1305,"x":6.3e4,"y":1650},{"g":1305,"x":6.3e4,"y":1450},{"g":1305,"x":2e4,"y":1450},
{"g":1306,"x":2.5e4,"y":850},{"g":1306,"x":2.5e6,"y":750},{"g":1306,"x":2.5e6,"y":370},{"g":1306,"x":3.2e5,"y":340},{"g":1306,"x":8e4,"y":263},{"g":1306,"x":3.2e4,"y":450},
{"g":1307,"x":3.2e6,"y":800},{"g":1307,"x":8e6,"y":1250},{"g":1307,"x":1e8,"y":1350},{"g":1307,"x":1e9,"y":1100},{"g":1307,"x":5e9,"y":1000},{"g":1307,"x":1e13,"y":1150},{"g":1307,"x":1e13,"y":950},{"g":1307,"x":5e9,"y":850},{"g":1307,"x":1e9,"y":870},{"g":1307,"x":3.2e7,"y":900},{"g":1307,"x":8e6,"y":650},
{"g":1308,"x":5e6,"y":850},{"g":1308,"x":1.6e7,"y":1150},{"g":1308,"x":8e7,"y":1150},{"g":1308,"x":3.2e7,"y":1000},{"g":1308,"x":1e7,"y":750},
{"g":1309,"x":6.3e7,"y":950},{"g":1309,"x":8e8,"y":850},{"g":1309,"x":2e9,"y":600},{"g":1309,"x":2e9,"y":400},{"g":1309,"x":6.3e8,"y":370},{"g":1309,"x":2e8,"y":500},

{"g":1401,"x":1e3,"y":1},{"g":1401,"x":1e13,"y":1},{"g":1401,"x":1e13,"y":1e4},{"g":1401,"x":1e3,"y":1e4},
{"g":1402,"x":1e3,"y":1150},{"g":1402,"x":1.6e5,"y":1300},{"g":1402,"x":1.6e6,"y":1050},{"g":1402,"x":2e7,"y":1100},{"g":1402,"x":1e13,"y":1150},{"g":1402,"x":1e13,"y":129},{"g":1402,"x":1.6e12,"y":120},{"g":1402,"x":6.3e11,"y":174},{"g":1402,"x":3.2e11,"y":140},{"g":1402,"x":3.2e10,"y":160},{"g":1402,"x":7e9,"y":180},{"g":1402,"x":3.2e9,"y":76},{"g":1402,"x":5e8,"y":56},{"g":1402,"x":2e8,"y":70},{"g":1402,"x":6.3e7,"y":150},{"g":1402,"x":2e7,"y":300},{"g":1402,"x":2.5e6,"y":350},{"g":1402,"x":2.5e6,"y":131},{"g":1402,"x":4e5,"y":123},{"g":1402,"x":1e5,"y":100},{"g":1402,"x":3.2e4,"y":41},{"g":1402,"x":2.2e4,"y":26},{"g":1402,"x":1e4,"y":47},{"g":1402,"x":1e3,"y":58},
{"g":1403,"x":1e3,"y":970},{"g":1403,"x":5e4,"y":1050},{"g":1403,"x":1.3e6,"y":1000},{"g":1403,"x":1.4e6,"y":455},{"g":1403,"x":8e5,"y":400},{"g":1403,"x":1e5,"y":350},{"g":1403,"x":4e4,"y":240},{"g":1403,"x":1.3e4,"y":370},{"g":1403,"x":1e3,"y":300},
{"g":1404,"x":2e6,"y":690},{"g":1404,"x":8e6,"y":1000},{"g":1404,"x":1e8,"y":1030},{"g":1404,"x":1e13,"y":1000},{"g":1404,"x":1e13,"y":426},{"g":1404,"x":3.2e10,"y":456},{"g":1404,"x":5e9,"y":490},{"g":1404,"x":1.6e9,"y":370},{"g":1404,"x":3.2e8,"y":350},{"g":1404,"x":3.2e7,"y":426},{"g":1404,"x":8e6,"y":560},
{"g":1405,"x":2.5e4,"y":880},{"g":1405,"x":6.3e4,"y":870},{"g":1405,"x":8e4,"y":800},{"g":1405,"x":4e4,"y":700},
{"g":1406,"x":6.3e5,"y":1150},{"g":1406,"x":5e6,"y":1850},{"g":1406,"x":5e6,"y":1100},{"g":1406,"x":1e6,"y":1050},
{"g":1407,"x":2.2e7,"y":3},{"g":1407,"x":4.3e7,"y":20},{"g":1407,"x":1.6e8,"y":5},{"g":1407,"x":2.2e8,"y":3},
{"g":1408,"x":1e4,"y":4e3},{"g":1408,"x":1e5,"y":4e3},{"g":1408,"x":6.3e4,"y":2000},{"g":1408,"x":2e4,"y":2000},

{"g":1501,"x":1e3,"y":1},{"g":1501,"x":1e13,"y":1},{"g":1501,"x":1e13,"y":1e4},{"g":1501,"x":1e3,"y":1e4},
{"g":1502,"x":3.2e5,"y":4e3},{"g":1502,"x":3.2e6,"y":4e3},{"g":1502,"x":5e6,"y":1300},{"g":1502,"x":6.3e6,"y":690},{"g":1502,"x":1e7,"y":300},{"g":1502,"x":4e7,"y":100},{"g":1502,"x":8e7,"y":15},{"g":1502,"x":1e8,"y":3},{"g":1502,"x":1e6,"y":3},{"g":1502,"x":8e5,"y":70},{"g":1502,"x":2e5,"y":200},{"g":1502,"x":1.6e5,"y":1000},
{"g":1503,"x":3.2e7,"y":600},{"g":1503,"x":3.2e8,"y":350},{"g":1503,"x":2.5e9,"y":600},{"g":1503,"x":5e9,"y":400},{"g":1503,"x":1e13,"y":370},{"g":1503,"x":1e13,"y":47},{"g":1503,"x":1e12,"y":40},{"g":1503,"x":3.2e11,"y":60},{"g":1503,"x":1.6e11,"y":25},{"g":1503,"x":1.3e11,"y":30},{"g":1503,"x":2.5e10,"y":100},{"g":1503,"x":2e9,"y":173},{"g":1503,"x":2e8,"y":215},{"g":1503,"x":3.2e7,"y":350},
{"g":1504,"x":9e7,"y":3},{"g":1504,"x":9e7,"y":76},{"g":1504,"x":1.6e8,"y":115},{"g":1504,"x":5e8,"y":123},{"g":1504,"x":2e9,"y":56},{"g":1504,"x":1e10,"y":20},{"g":1504,"x":8e10,"y":3},
{"g":1505,"x":1e3,"y":142},{"g":1505,"x":4e4,"y":142},{"g":1505,"x":1e5,"y":66},{"g":1505,"x":4e5,"y":20},{"g":1505,"x":2e6,"y":3},{"g":1505,"x":1e3,"y":3},
{"g":1506,"x":1e3,"y":71},{"g":1506,"x":1.6e4,"y":71},{"g":1506,"x":4e4,"y":38},{"g":1506,"x":1e5,"y":14},{"g":1506,"x":3.2e5,"y":3},{"g":1506,"x":1e3,"y":3},
{"g":1507,"x":1e3,"y":4e3},{"g":1507,"x":1.3e5,"y":4e3},{"g":1507,"x":1e5,"y":1000},{"g":1507,"x":6.3e4,"y":600},{"g":1507,"x":3.2e4,"y":300},{"g":1507,"x":2e4,"y":460},{"g":1507,"x":6.3e3,"y":180},{"g":1507,"x":1e3,"y":170},
{"g":1508,"x":1e3,"y":4e3},{"g":1508,"x":1e5,"y":4e3},{"g":1508,"x":8e4,"y":1000},{"g":1508,"x":5e4,"y":500},{"g":1508,"x":3.2e4,"y":350},{"g":1508,"x":1.6e4,"y":1000},{"g":1508,"x":1e3,"y":1000},
{"g":1509,"x":1e4,"y":4e3},{"g":1509,"x":9e4,"y":4e3},{"g":1509,"x":7e4,"y":1000},{"g":1509,"x":5e4,"y":740},{"g":1509,"x":2.5e4,"y":1300},{"g":1509,"x":1e4,"y":2000},
{"g":1510,"x":1e7,"y":4e3},{"g":1510,"x":1e9,"y":4e3},{"g":1510,"x":8e8,"y":1300},{"g":1510,"x":4e8,"y":800},{"g":1510,"x":2.5e8,"y":400},{"g":1510,"x":8e7,"y":400},{"g":1510,"x":2.5e7,"y":700},
{"g":1511,"x":1.3e7,"y":4e3},{"g":1511,"x":2e8,"y":4e3},{"g":1511,"x":2.5e8,"y":1000},{"g":1511,"x":1.6e8,"y":600},{"g":1511,"x":5e7,"y":800},{"g":1511,"x":2.5e7,"y":1400},
{"g":1512,"x":2e7,"y":4e3},{"g":1512,"x":1e8,"y":4e3},{"g":1512,"x":8e7,"y":1500},{"g":1512,"x":1.3e8,"y":1000},{"g":1512,"x":8e7,"y":800},{"g":1512,"x":4e7,"y":900},{"g":1512,"x":6.3e7,"y":1400},{"g":1512,"x":3.2e7,"y":2400},
{"g":1513,"x":5e9,"y":1050},{"g":1513,"x":2e10,"y":1100},{"g":1513,"x":1e13,"y":1000},{"g":1513,"x":1e13,"y":850},{"g":1513,"x":5e10,"y":800},{"g":1513,"x":1e10,"y":800},{"g":1513,"x":5e9,"y":900},
{"g":1514,"x":1.3e9,"y":1500},{"g":1514,"x":3.2e9,"y":1800},{"g":1514,"x":5e9,"y":1400},{"g":1514,"x":2.5e9,"y":1100},

{"g":1601,"x":1e3,"y":1},{"g":1601,"x":1e13,"y":1},{"g":1601,"x":1e13,"y":1e4},{"g":1601,"x":1e3,"y":1e4},
{"g":1602,"x":1e3,"y":5},{"g":1602,"x":1e13,"y":5},{"g":1602,"x":1e13,"y":3},{"g":1602,"x":1e3,"y":3},
{"g":1603,"x":3.2e5,"y":124},{"g":1603,"x":8e5,"y":214},{"g":1603,"x":1.6e6,"y":250},{"g":1603,"x":6.3e6,"y":71},{"g":1603,"x":4e7,"y":7.8},{"g":1603,"x":1e8,"y":3},{"g":1603,"x":4e6,"y":3},{"g":1603,"x":3.2e6,"y":7.8},{"g":1603,"x":8e5,"y":27},
{"g":1604,"x":1.6e7,"y":860},{"g":1604,"x":3.2e7,"y":800},{"g":1604,"x":6.3e7,"y":240},{"g":1604,"x":1.3e8,"y":54},{"g":1604,"x":1.4e8,"y":13},{"g":1604,"x":1e8,"y":13},{"g":1604,"x":8e7,"y":54},{"g":1604,"x":3.2e7,"y":250},{"g":1604,"x":1.3e7,"y":700},
{"g":1605,"x":5.6e9,"y":333},{"g":1605,"x":1.3e10,"y":277},{"g":1605,"x":4e10,"y":123},{"g":1605,"x":3.2e10,"y":80},{"g":1605,"x":1.8e10,"y":69},{"g":1605,"x":7e9,"y":170},
{"g":1606,"x":1e3,"y":900},{"g":1606,"x":5e5,"y":900},{"g":1606,"x":2.5e5,"y":630},{"g":1606,"x":4e4,"y":420},{"g":1606,"x":1.6e4,"y":295},{"g":1606,"x":8e3,"y":480},{"g":1606,"x":1e3,"y":630},
{"g":1607,"x":1e8,"y":870},{"g":1607,"x":8e8,"y":870},{"g":1607,"x":1.3e9,"y":700},{"g":1607,"x":8e8,"y":420},{"g":1607,"x":3.2e8,"y":400},{"g":1607,"x":1.3e8,"y":600},
{"g":1608,"x":1e3,"y":1700},{"g":1608,"x":1e6,"y":1700},{"g":1608,"x":1e6,"y":1100},{"g":1608,"x":1e3,"y":1100},
{"g":1609,"x":1e3,"y":1450},{"g":1609,"x":5e5,"y":1450},{"g":1609,"x":5e5,"y":1250},{"g":1609,"x":1e3,"y":1250},
{"g":1610,"x":1.6e9,"y":1450},{"g":1610,"x":1e13,"y":1450},{"g":1610,"x":1e13,"y":1250},{"g":1610,"x":1.6e9,"y":1250},
{"g":1611,"x":1.6e4,"y":4e3},{"g":1611,"x":1e5,"y":4e3},{"g":1611,"x":1e5,"y":1800},{"g":1611,"x":1.6e4,"y":1800},
{"g":1612,"x":1e7,"y":4e3},{"g":1612,"x":3.2e8,"y":4e3},{"g":1612,"x":3.2e8,"y":1350},{"g":1612,"x":1e7,"y":1350},
{"g":1613,"x":2.5e7,"y":900},{"g":1613,"x":8e7,"y":1100},{"g":1613,"x":5e8,"y":1050},{"g":1613,"x":3.2e9,"y":900},{"g":1613,"x":1e13,"y":950},{"g":1613,"x":1e13,"y":880},{"g":1613,"x":3.2e9,"y":830},{"g":1613,"x":5e8,"y":980},{"g":1613,"x":6.3e7,"y":1000},{"g":1613,"x":3.2e7,"y":800},
{"g":1699,"x":4.6e4,"y":9,"t":"χχ→γγ","k":"lab"},{"g":1699,"x":32,"y":105,"t":"Redshift (1 + z)","k":"ylab"},

{"g":1701,"x":1e3,"y":1},{"g":1701,"x":1e13,"y":1},{"g":1701,"x":1e13,"y":1e4},{"g":1701,"x":1e3,"y":1e4},
{"g":1702,"x":1e3,"y":1030},{"g":1702,"x":1e7,"y":1030},{"g":1702,"x":1.6e7,"y":815},{"g":1702,"x":1e7,"y":730},{"g":1702,"x":3.5e6,"y":680},{"g":1702,"x":1.1e7,"y":420},{"g":1702,"x":9e6,"y":277},{"g":1702,"x":7e6,"y":81},{"g":1702,"x":8e5,"y":71},{"g":1702,"x":5e5,"y":44},{"g":1702,"x":8e4,"y":27},{"g":1702,"x":3.5e4,"y":27},{"g":1702,"x":1e3,"y":31},
{"g":1703,"x":1.3e4,"y":630},{"g":1703,"x":4.5e4,"y":630},{"g":1703,"x":6.3e4,"y":420},{"g":1703,"x":2.5e4,"y":257},{"g":1703,"x":1.4e4,"y":365},
{"g":1704,"x":1.6e7,"y":980},{"g":1704,"x":1e13,"y":980},{"g":1704,"x":1e13,"y":660},{"g":1704,"x":1e10,"y":640},{"g":1704,"x":1e9,"y":590},{"g":1704,"x":7e6,"y":730},
{"g":1705,"x":1e9,"y":590},{"g":1705,"x":2.2e9,"y":420},{"g":1705,"x":1.1e10,"y":200},{"g":1705,"x":9e10,"y":270},{"g":1705,"x":3.2e11,"y":250},{"g":1705,"x":1e13,"y":250},{"g":1705,"x":1e13,"y":57},{"g":1705,"x":4e11,"y":60},{"g":1705,"x":1.6e11,"y":47},{"g":1705,"x":9e10,"y":49},{"g":1705,"x":5e10,"y":78},{"g":1705,"x":3.2e10,"y":49},{"g":1705,"x":1.1e10,"y":47},{"g":1705,"x":2.2e9,"y":49},{"g":1705,"x":6.3e8,"y":80},{"g":1705,"x":1.6e8,"y":141},{"g":1705,"x":1.3e8,"y":186},{"g":1705,"x":3.5e8,"y":365},
{"g":1706,"x":1.3e8,"y":3},{"g":1706,"x":2e8,"y":4.5},{"g":1706,"x":4e8,"y":3},

{"g":1801,"x":1e3,"y":1},{"g":1801,"x":1e13,"y":1},{"g":1801,"x":1e13,"y":1e4},{"g":1801,"x":1e3,"y":1e4},
{"g":1802,"x":2.5e6,"y":960},{"g":1802,"x":3.5e6,"y":1180},{"g":1802,"x":1.6e7,"y":1310},{"g":1802,"x":3.2e8,"y":1350},{"g":1802,"x":2e9,"y":1130},{"g":1802,"x":5e9,"y":1300},{"g":1802,"x":1e13,"y":1310},{"g":1802,"x":1e13,"y":920},{"g":1802,"x":4e9,"y":900},{"g":1802,"x":8e8,"y":1030},{"g":1802,"x":5e7,"y":860},{"g":1802,"x":1.6e7,"y":730},{"g":1802,"x":1.8e7,"y":320},{"g":1802,"x":5e7,"y":122},{"g":1802,"x":1.6e8,"y":54},{"g":1802,"x":2e8,"y":20},{"g":1802,"x":8e8,"y":13},{"g":1802,"x":2.5e8,"y":6.8},{"g":1802,"x":1.3e8,"y":12},{"g":1802,"x":8e7,"y":50},{"g":1802,"x":2e7,"y":122},{"g":1802,"x":6.3e6,"y":365},{"g":1802,"x":2.5e6,"y":730},
{"g":1803,"x":1e3,"y":2200},{"g":1803,"x":3.2e5,"y":2200},{"g":1803,"x":3.2e5,"y":900},{"g":1803,"x":1e3,"y":900},
{"g":1804,"x":1e4,"y":1800},{"g":1804,"x":1e5,"y":1900},{"g":1804,"x":1.6e5,"y":1100},{"g":1804,"x":2.5e4,"y":950},{"g":1804,"x":1e4,"y":1200},
{"g":1805,"x":1e3,"y":5.2},{"g":1805,"x":1e13,"y":5.2},{"g":1805,"x":1e13,"y":3},{"g":1805,"x":1e3,"y":3},
{"g":1806,"x":4e6,"y":1050},{"g":1806,"x":1.6e7,"y":1200},{"g":1806,"x":1.6e8,"y":1150},{"g":1806,"x":2e7,"y":1000},{"g":1806,"x":8e6,"y":730},
{"g":1807,"x":2.5e4,"y":1650},{"g":1807,"x":8e4,"y":1650},{"g":1807,"x":8e4,"y":1450},{"g":1807,"x":2.5e4,"y":1450},
{"g":1808,"x":4e4,"y":900},{"g":1808,"x":6.3e5,"y":900},{"g":1808,"x":2.5e5,"y":650},{"g":1808,"x":5e4,"y":600},
{"g":1809,"x":1.6e9,"y":950},{"g":1809,"x":1e10,"y":950},{"g":1809,"x":4e9,"y":800},
{"g":1810,"x":1e7,"y":2500},{"g":1810,"x":3.2e8,"y":2500},{"g":1810,"x":3.2e8,"y":1500},{"g":1810,"x":1e7,"y":1500},

{"g":1901,"x":1e3,"y":1},{"g":1901,"x":1e13,"y":1},{"g":1901,"x":1e13,"y":1e4},{"g":1901,"x":1e3,"y":1e4},
{"g":1902,"x":1e3,"y":4.8},{"g":1902,"x":1e13,"y":5},{"g":1902,"x":1e13,"y":3},{"g":1902,"x":1e3,"y":3},
{"g":1903,"x":1e3,"y":1100},{"g":1903,"x":8e5,"y":1150},{"g":1903,"x":1.6e6,"y":1000},{"g":1903,"x":3.2e7,"y":1150},{"g":1903,"x":1e13,"y":1100},{"g":1903,"x":1e13,"y":212},{"g":1903,"x":5e11,"y":205},{"g":1903,"x":2.5e11,"y":250},{"g":1903,"x":2e10,"y":269},{"g":1903,"x":8e9,"y":230},{"g":1903,"x":1.6e9,"y":190},{"g":1903,"x":6.3e8,"y":145},{"g":1903,"x":2.5e8,"y":150},{"g":1903,"x":8e7,"y":230},{"g":1903,"x":2e7,"y":365},{"g":1903,"x":1.6e6,"y":468},{"g":1903,"x":1.4e6,"y":200},{"g":1903,"x":3.2e5,"y":200},{"g":1903,"x":5e4,"y":158},{"g":1903,"x":1.6e4,"y":124},{"g":1903,"x":1e3,"y":135},
{"g":1904,"x":1e3,"y":1000},{"g":1904,"x":6.3e4,"y":1090},{"g":1904,"x":1e6,"y":990},{"g":1904,"x":1.6e6,"y":960},{"g":1904,"x":8e5,"y":480},{"g":1904,"x":1e5,"y":420},{"g":1904,"x":2.5e4,"y":480},{"g":1904,"x":1e3,"y":420},
{"g":1905,"x":2.5e6,"y":890},{"g":1905,"x":1.6e7,"y":1050},{"g":1905,"x":1e13,"y":1000},{"g":1905,"x":1e13,"y":533},{"g":1905,"x":1e11,"y":590},{"g":1905,"x":1.6e10,"y":590},{"g":1905,"x":1.6e9,"y":435},{"g":1905,"x":1.6e8,"y":480},{"g":1905,"x":1.6e7,"y":640},{"g":1905,"x":3.2e6,"y":850},
{"g":1906,"x":1e5,"y":1800},{"g":1906,"x":1e7,"y":4e3},{"g":1906,"x":2e7,"y":1200},{"g":1906,"x":1e6,"y":1150},
{"g":1907,"x":3.2e8,"y":4e3},{"g":1907,"x":3.2e9,"y":4e3},{"g":1907,"x":3.2e9,"y":1250},{"g":1907,"x":3.2e7,"y":1250},{"g":1907,"x":1.6e7,"y":2400},
{"g":1908,"x":1.1e7,"y":103},{"g":1908,"x":2.5e7,"y":95},{"g":1908,"x":6.3e7,"y":41},{"g":1908,"x":1.1e8,"y":16},{"g":1908,"x":1e8,"y":5},{"g":1908,"x":1.6e7,"y":5},{"g":1908,"x":1.6e7,"y":20},{"g":1908,"x":1.1e7,"y":52},

{"g":2001,"x":1e3,"y":1},{"g":2001,"x":1e13,"y":1},{"g":2001,"x":1e13,"y":1e4},{"g":2001,"x":1e3,"y":1e4},
{"g":2002,"x":1e3,"y":5},{"g":2002,"x":1e13,"y":5},{"g":2002,"x":1e13,"y":3},{"g":2002,"x":1e3,"y":3},
{"g":2003,"x":1e3,"y":130},{"g":2003,"x":2.5e4,"y":186},{"g":2003,"x":1.6e5,"y":131},{"g":2003,"x":6.3e5,"y":71},{"g":2003,"x":5e6,"y":13},{"g":2003,"x":1.6e7,"y":5.5},{"g":2003,"x":3.2e7,"y":5.5},{"g":2003,"x":1.3e7,"y":15.5},{"g":2003,"x":1e6,"y":141},{"g":2003,"x":1.6e5,"y":225},{"g":2003,"x":2.5e4,"y":295},{"g":2003,"x":1e3,"y":230},
{"g":2004,"x":1e3,"y":93},{"g":2004,"x":3.2e4,"y":93},{"g":2004,"x":1e5,"y":62},{"g":2004,"x":5e5,"y":20},{"g":2004,"x":4e6,"y":5},{"g":2004,"x":6.3e6,"y":3},{"g":2004,"x":1e3,"y":3},
{"g":2005,"x":1e3,"y":3},{"g":2005,"x":1e3,"y":50},{"g":2005,"x":2.5e4,"y":50},{"g":2005,"x":1e5,"y":20},{"g":2005,"x":1.6e6,"y":4.9},{"g":2005,"x":2e6,"y":3},
{"g":2006,"x":3.2e7,"y":257},{"g":2006,"x":4e8,"y":215},{"g":2006,"x":4e9,"y":175},{"g":2006,"x":1.3e10,"y":229},{"g":2006,"x":1e12,"y":158},{"g":2006,"x":1e13,"y":165},{"g":2006,"x":1e13,"y":47},{"g":2006,"x":1e12,"y":65},{"g":2006,"x":5e11,"y":32},{"g":2006,"x":1.3e11,"y":27},{"g":2006,"x":2e10,"y":62},{"g":2006,"x":8e9,"y":100},{"g":2006,"x":3.2e9,"y":85},{"g":2006,"x":1.3e9,"y":110},{"g":2006,"x":3.2e8,"y":125},{"g":2006,"x":4e7,"y":170},
{"g":2007,"x":1e8,"y":3},{"g":2007,"x":2.5e8,"y":47},{"g":2007,"x":8e8,"y":76},{"g":2007,"x":2.5e9,"y":47},{"g":2007,"x":1e10,"y":16},{"g":2007,"x":6.3e10,"y":7},{"g":2007,"x":1e13,"y":13},{"g":2007,"x":1e13,"y":3},
{"g":2008,"x":1e9,"y":3},{"g":2008,"x":1e9,"y":8},{"g":2008,"x":2e9,"y":23},{"g":2008,"x":4e9,"y":16},{"g":2008,"x":2e10,"y":3},
{"g":2009,"x":4e6,"y":4e3},{"g":2009,"x":1.6e9,"y":4e3},{"g":2009,"x":1.6e9,"y":1300},{"g":2009,"x":8e8,"y":600},{"g":2009,"x":4e8,"y":320},{"g":2009,"x":4e7,"y":600},{"g":2009,"x":1e7,"y":1300},
{"g":2010,"x":1e7,"y":4e3},{"g":2010,"x":2.5e8,"y":4e3},{"g":2010,"x":4e8,"y":1100},{"g":2010,"x":2.5e8,"y":700},{"g":2010,"x":8e7,"y":600},{"g":2010,"x":2.5e7,"y":1300},
{"g":2011,"x":3.2e7,"y":4e3},{"g":2011,"x":1.6e8,"y":4e3},{"g":2011,"x":1.3e8,"y":2000},{"g":2011,"x":2.2e8,"y":1050},{"g":2011,"x":1e8,"y":850},{"g":2011,"x":6.3e7,"y":1050},{"g":2011,"x":1e8,"y":1800},{"g":2011,"x":5e7,"y":2400},
{"g":2012,"x":1e3,"y":4e3},{"g":2012,"x":1.6e5,"y":4e3},{"g":2012,"x":1e5,"y":1000},{"g":2012,"x":5e4,"y":390},{"g":2012,"x":2e4,"y":450},{"g":2012,"x":1e3,"y":320},
{"g":2013,"x":1e3,"y":2000},{"g":2013,"x":1.6e4,"y":4e3},{"g":2013,"x":1.3e5,"y":4e3},{"g":2013,"x":8e4,"y":1000},{"g":2013,"x":5e4,"y":730},{"g":2013,"x":3.2e4,"y":700},{"g":2013,"x":1.6e4,"y":1000},{"g":2013,"x":1e3,"y":1000},
{"g":2014,"x":3.2e4,"y":4e3},{"g":2014,"x":1e5,"y":4e3},{"g":2014,"x":7e4,"y":1200},{"g":2014,"x":5e4,"y":800},{"g":2014,"x":3.2e4,"y":1200},
{"g":2015,"x":5e10,"y":1350},{"g":2015,"x":1.6e11,"y":1500},{"g":2015,"x":1e13,"y":1350},{"g":2015,"x":1e13,"y":1250},{"g":2015,"x":1.6e11,"y":1250},
{"g":2016,"x":2.5e6,"y":4.9},{"g":2016,"x":6.3e7,"y":4.8},{"g":2016,"x":6.3e7,"y":4.2},{"g":2016,"x":2.5e6,"y":4.2}
]},
"vconcat":[
{"data":{"name":"pts"},"transform":[{"lookup":"g","from":{"data":{"name":"polys"},"key":"g","fields":["p","l"]}},{"filter":"datum.p<=15"},{"calculate":"floor((datum.p-1)/5)","as":"r"},{"calculate":"(datum.p-1)%5","as":"c"}],
"facet":{"row":{"field":"r","type":"ordinal","header":null},"column":{"field":"c","type":"ordinal","header":null}},"bounds":"flush","spacing":{"row":31.5,"column":25},"resolve":{"axis":{"x":"independent","y":"independent"}},
"spec":{"width":131,"height":160,"resolve":{"axis":{"x":"independent","y":"independent"}},
"encoding":{"x":{"field":"x","type":"quantitative","scale":{"type":"log","domain":[5000,4.6e12],"nice":false},"axis":null},"y":{"field":"y","type":"quantitative","scale":{"type":"log","domain":[4,2950],"nice":false},"axis":null}},
"layer":[
{"transform":[{"filter":"!datum.k"}],"mark":{"type":"line","clip":true,"strokeWidth":0},"encoding":{"x":{"field":"x","type":"quantitative","scale":{"type":"log","domain":[5000,4.6e12],"nice":false},"axis":{"orient":"bottom","values":[1e4,1e6,1e8,1e10,1e12],"labels":false,"title":null,"tickSize":-6,"tickWidth":1.5,"tickColor":"#000","domainColor":"#000","domainWidth":1.5,"grid":false,"zindex":1}},"y":{"field":"y","type":"quantitative","scale":{"type":"log","domain":[4,2950],"nice":false},"axis":{"orient":"left","values":[4,5,6,7,8,9,10,20,30,40,50,60,70,80,90,100,200,300,400,500,600,700,800,900,1000,2000],"title":null,"labelOverlap":false,"labelBound":false,"labelFontSize":11,"labelPadding":11,"labelExpr":"datum.value==10?'10':datum.value==100?'10²':datum.value==1000?'10³':''","tickSize":{"condition":{"test":"datum.value==10||datum.value==100||datum.value==1000","value":-8},"value":-3},"tickWidth":1.2,"tickColor":"#000","domainColor":"#000","domainWidth":1.5,"grid":false,"zindex":1}},"fill":{"field":"l","type":"ordinal","scale":{"domain":[0,1,2,3,4,5],"range":["#08306b","#0c3d78","#15558f","#2c6fb0","#8cbfdd","#fccbb2"]},"legend":null},"detail":{"field":"g"},"order":{"value":null}}},
{"transform":[{"filter":"false"}],"mark":{"type":"point","opacity":0},"encoding":{"x":{"field":"x","type":"quantitative","scale":{"type":"log","domain":[5000,4.6e12],"nice":false},"axis":{"orient":"top","values":[1e4,1e6,1e8,1e10,1e12],"labels":false,"title":null,"tickSize":-6,"tickWidth":1.5,"tickColor":"#000","domainColor":"#000","domainWidth":1.5,"grid":false,"zindex":1}},"y":{"field":"y","type":"quantitative","scale":{"type":"log","domain":[4,2950],"nice":false},"axis":{"orient":"right","values":[4,5,6,7,8,9,10,20,30,40,50,60,70,80,90,100,200,300,400,500,600,700,800,900,1000,2000],"title":null,"labels":false,"tickSize":{"condition":{"test":"datum.value==10||datum.value==100||datum.value==1000","value":-8},"value":-3},"tickWidth":1.2,"tickColor":"#000","domainColor":"#000","domainWidth":1.5,"grid":false,"zindex":1}}}},
{"transform":[{"filter":"datum.k=='big'"}],"mark":{"type":"text","fontSize":22,"fontStyle":"italic","align":"left","baseline":"middle","color":"#222"},"encoding":{"text":{"field":"t"}}},
{"transform":[{"filter":"datum.k=='sub'"}],"mark":{"type":"text","fontSize":14,"fontStyle":"italic","align":"left","baseline":"middle","color":"#222"},"encoding":{"text":{"field":"t"}}},
{"transform":[{"filter":"datum.k=='subsub'"}],"mark":{"type":"text","fontSize":10.5,"fontStyle":"italic","align":"left","baseline":"middle","color":"#222"},"encoding":{"text":{"field":"t"}}},
{"transform":[{"filter":"datum.k=='lab'"}],"mark":{"type":"text","fontSize":16,"fontStyle":"italic","align":"left","baseline":"middle","color":"#e8eef5"},"encoding":{"text":{"field":"t"}}},
{"transform":[{"filter":"datum.k=='ylab'"}],"mark":{"type":"text","fontSize":15.5,"angle":270,"align":"center","baseline":"middle","color":"#222"},"encoding":{"text":{"field":"t"}}}
]}},
{"spacing":0,"hconcat":[
{"data":{"name":"pts"},"transform":[{"lookup":"g","from":{"data":{"name":"polys"},"key":"g","fields":["p","l"]}},{"filter":"datum.p>=16&&datum.p<=19"}],
"facet":{"column":{"field":"p","type":"ordinal","header":null}},"bounds":"flush","spacing":{"column":25},"resolve":{"axis":{"x":"independent","y":"independent"}},
"spec":{"width":131,"height":160,"resolve":{"axis":{"x":"independent","y":"independent"}},
"encoding":{"x":{"field":"x","type":"quantitative","scale":{"type":"log","domain":[5000,4.6e12],"nice":false},"axis":null},"y":{"field":"y","type":"quantitative","scale":{"type":"log","domain":[4,2950],"nice":false},"axis":null}},
"layer":[
{"transform":[{"filter":"!datum.k"}],"mark":{"type":"line","clip":true,"strokeWidth":0},"encoding":{"x":{"field":"x","type":"quantitative","scale":{"type":"log","domain":[5000,4.6e12],"nice":false},"axis":{"orient":"bottom","values":[1e4,1e6,1e8,1e10,1e12],"title":"Kinetic Energy [eV]","titleFontSize":15,"titleFontWeight":"normal","titlePadding":5,"labelFontSize":11,"labelPadding":10,"labelOverlap":false,"labelBound":false,"labelFlush":false,"labelExpr":"'10'+['⁴','⁶','⁸','¹⁰','¹²'][round(log(datum.value)/LN10/2)-2]","tickSize":-6,"tickWidth":1.5,"tickColor":"#000","domainColor":"#000","domainWidth":1.5,"grid":false,"zindex":1}},"y":{"field":"y","type":"quantitative","scale":{"type":"log","domain":[4,2950],"nice":false},"axis":{"orient":"left","values":[4,5,6,7,8,9,10,20,30,40,50,60,70,80,90,100,200,300,400,500,600,700,800,900,1000,2000],"title":null,"labelOverlap":false,"labelBound":false,"labelFontSize":11,"labelPadding":11,"labelExpr":"datum.value==10?'10':datum.value==100?'10²':datum.value==1000?'10³':''","tickSize":{"condition":{"test":"datum.value==10||datum.value==100||datum.value==1000","value":-8},"value":-3},"tickWidth":1.2,"tickColor":"#000","domainColor":"#000","domainWidth":1.5,"grid":false,"zindex":1}},"fill":{"field":"l","type":"ordinal","scale":{"domain":[0,1,2,3,4,5],"range":["#08306b","#0c3d78","#15558f","#2c6fb0","#8cbfdd","#fccbb2"]},"legend":null},"detail":{"field":"g"},"order":{"value":null}}},
{"transform":[{"filter":"false"}],"mark":{"type":"point","opacity":0},"encoding":{"x":{"field":"x","type":"quantitative","scale":{"type":"log","domain":[5000,4.6e12],"nice":false},"axis":{"orient":"top","values":[1e4,1e6,1e8,1e10,1e12],"labels":false,"title":null,"tickSize":-6,"tickWidth":1.5,"tickColor":"#000","domainColor":"#000","domainWidth":1.5,"grid":false,"zindex":1}},"y":{"field":"y","type":"quantitative","scale":{"type":"log","domain":[4,2950],"nice":false},"axis":{"orient":"right","values":[4,5,6,7,8,9,10,20,30,40,50,60,70,80,90,100,200,300,400,500,600,700,800,900,1000,2000],"title":null,"labels":false,"tickSize":{"condition":{"test":"datum.value==10||datum.value==100||datum.value==1000","value":-8},"value":-3},"tickWidth":1.2,"tickColor":"#000","domainColor":"#000","domainWidth":1.5,"grid":false,"zindex":1}}}},
{"transform":[{"filter":"datum.k=='lab'"}],"mark":{"type":"text","fontSize":16,"fontStyle":"italic","align":"left","baseline":"middle","color":"#e8eef5"},"encoding":{"text":{"field":"t"}}},
{"transform":[{"filter":"datum.k=='ylab'"}],"mark":{"type":"text","fontSize":15.5,"angle":270,"align":"center","baseline":"middle","color":"#222"},"encoding":{"text":{"field":"t"}}}
]}},
{"bounds":"flush","spacing":4,"hconcat":[
{"width":118,"height":160,"data":{"name":"pts"},"transform":[{"lookup":"g","from":{"data":{"name":"polys"},"key":"g","fields":["p","l"]}},{"filter":"datum.p==20"}],"resolve":{"axis":{"x":"independent","y":"independent"}},
"layer":[
{"mark":{"type":"line","clip":true,"strokeWidth":0},"encoding":{"x":{"field":"x","type":"quantitative","scale":{"type":"log","domain":[5000,4.6e12],"nice":false},"axis":{"orient":"bottom","values":[1e4,1e6,1e8,1e10,1e12],"title":"Kinetic Energy [eV]","titleFontSize":15,"titleFontWeight":"normal","titlePadding":5,"labelFontSize":11,"labelPadding":10,"labelOverlap":false,"labelBound":false,"labelFlush":false,"labelExpr":"'10'+['⁴','⁶','⁸','¹⁰','¹²'][round(log(datum.value)/LN10/2)-2]","tickSize":-6,"tickWidth":1.5,"tickColor":"#000","domainColor":"#000","domainWidth":1.5,"grid":false,"zindex":1}},"y":{"field":"y","type":"quantitative","scale":{"type":"log","domain":[4,2950],"nice":false},"axis":{"orient":"left","values":[4,5,6,7,8,9,10,20,30,40,50,60,70,80,90,100,200,300,400,500,600,700,800,900,1000,2000],"title":null,"labelOverlap":false,"labelBound":false,"labelFontSize":11,"labelPadding":11,"labelExpr":"datum.value==10?'10':datum.value==100?'10²':datum.value==1000?'10³':''","tickSize":{"condition":{"test":"datum.value==10||datum.value==100||datum.value==1000","value":-8},"value":-3},"tickWidth":1.2,"tickColor":"#000","domainColor":"#000","domainWidth":1.5,"grid":false,"zindex":1}},"fill":{"field":"l","type":"ordinal","scale":{"domain":[0,1,2,3,4,5],"range":["#08306b","#0c3d78","#15558f","#2c6fb0","#8cbfdd","#fccbb2"]},"legend":null},"detail":{"field":"g"},"order":{"value":null}}},
{"transform":[{"filter":"false"}],"mark":{"type":"point","opacity":0},"encoding":{"x":{"field":"x","type":"quantitative","scale":{"type":"log","domain":[5000,4.6e12],"nice":false},"axis":{"orient":"top","values":[1e4,1e6,1e8,1e10,1e12],"labels":false,"title":null,"tickSize":-6,"tickWidth":1.5,"tickColor":"#000","domainColor":"#000","domainWidth":1.5,"grid":false,"zindex":1}},"y":{"field":"y","type":"quantitative","scale":{"type":"log","domain":[4,2950],"nice":false},"axis":{"orient":"right","values":[4,5,6,7,8,9,10,20,30,40,50,60,70,80,90,100,200,300,400,500,600,700,800,900,1000,2000],"title":null,"labels":false,"tickSize":{"condition":{"test":"datum.value==10||datum.value==100||datum.value==1000","value":-8},"value":-3},"tickWidth":1.2,"tickColor":"#000","domainColor":"#000","domainWidth":1.5,"grid":false,"zindex":1}}}}
]},
{"width":8,"height":160,"resolve":{"axis":{"y":"independent"}},"layer":[
{"data":{"name":"bar"},"mark":{"type":"rect"},"encoding":{"y":{"field":"lo","type":"quantitative","scale":{"domain":[-1,7],"nice":false},"axis":{"orient":"right","values":[0,1,2,3,4,5,6],"title":null,"domain":false,"grid":false,"labelFontSize":11,"labelPadding":11,"labelOverlap":false,"labelBound":false,"labelExpr":"['0.00','0.01','0.05','0.10','0.20','0.50','1.00'][datum.value]","tickSize":-8,"tickWidth":1.5,"tickColor":"#000","zindex":1}},"y2":{"field":"hi"},"fill":{"field":"l","type":"ordinal","scale":{"domain":[0,1,2,3,4,5],"range":["#08306b","#0c3d78","#15558f","#2c6fb0","#8cbfdd","#fccbb2"]},"legend":null}}},
{"data":{"name":"frame"},"mark":{"type":"rect","fillOpacity":0,"stroke":"#000","strokeWidth":1.5},"encoding":{"y":{"field":"lo","type":"quantitative","axis":null},"y2":{"field":"hi"}}},
{"data":{"name":"capline"},"mark":{"type":"rule","color":"#222","strokeWidth":0.8},"encoding":{"x":{"field":"x","type":"quantitative","scale":{"domain":[0,1],"nice":false},"axis":null},"x2":{"field":"x2"},"y":{"field":"y","type":"quantitative","axis":null}}},
{"data":{"name":"cap"},"mark":{"type":"text","fontSize":10,"fontStyle":"italic","align":"center","baseline":"middle","color":"#222"},"encoding":{"x":{"field":"x","type":"quantitative","axis":null},"y":{"field":"y","type":"quantitative","axis":null},"text":{"field":"t"}}}
]}
]}
]}
]}
